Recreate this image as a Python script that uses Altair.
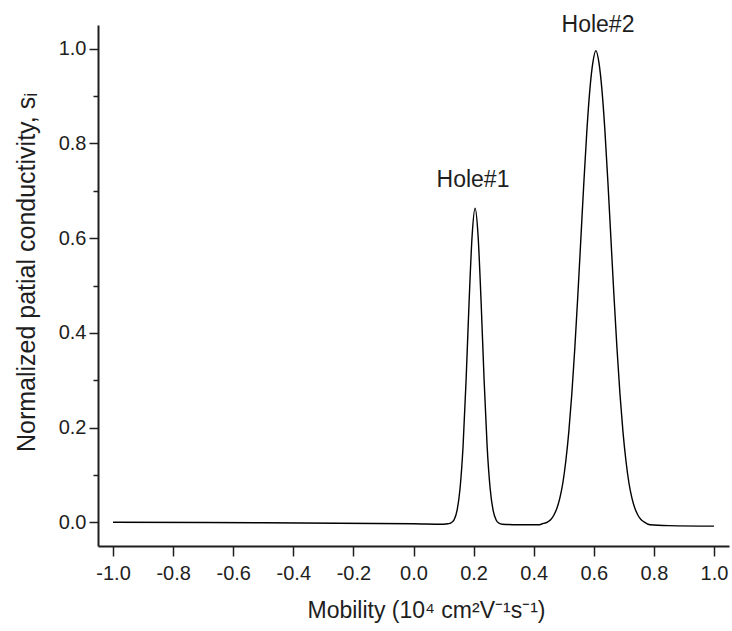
import altair as alt
import pandas as pd

# Mobility (10^4 cm^2 V^-1 s^-1) and normalized partial conductivity
mobility = [-1.0, -0.5, 0.0, 0.1, 0.115, 0.125, 0.135, 0.145, 0.155, 0.165, 0.175, 0.185,
            0.195, 0.205, 0.215, 0.225, 0.235, 0.245, 0.255, 0.265, 0.275, 0.285, 0.295,
            0.35, 0.42, 0.427, 0.447, 0.457, 0.467, 0.477, 0.487, 0.497, 0.507, 0.517,
            0.527, 0.537, 0.547, 0.557, 0.567, 0.577, 0.587, 0.597, 0.607, 0.617, 0.627,
            0.637, 0.647, 0.657, 0.667, 0.677, 0.687, 0.697, 0.707, 0.717, 0.727, 0.737,
            0.747, 0.757, 0.767, 0.787, 0.85, 1.0]
conductivity = [0.0, -0.001, -0.003, -0.004, -0.003, -0.001, 0.005, 0.025, 0.072, 0.161,
                0.300, 0.465, 0.604, 0.663, 0.604, 0.465, 0.300, 0.161, 0.072, 0.025, 0.005,
                -0.002, -0.004, -0.005, -0.005, -0.0035, 0.001, 0.006, 0.015, 0.029, 0.051,
                0.083, 0.130, 0.192, 0.272, 0.369, 0.480, 0.599, 0.718, 0.827, 0.914, 0.971,
                0.996, 0.971, 0.914, 0.827, 0.718, 0.599, 0.480, 0.369, 0.272, 0.192, 0.130,
                0.083, 0.051, 0.029, 0.015, 0.006, 0.001, -0.005, -0.007, -0.008]

label_text = ["Hole#1", "Hole#2"]
label_x = [0.198, 0.614]
label_y = [0.707, 1.036]

x_ticks = [-1.0, -0.8, -0.6, -0.4, -0.2, 0.0, 0.2, 0.4, 0.6, 0.8, 1.0]
y_ticks = [0.0, 0.2, 0.4, 0.6, 0.8, 1.0]
y_minor = [0.1, 0.3, 0.5, 0.7, 0.9]

curve = pd.DataFrame({"m": mobility, "s": conductivity})
labels = pd.DataFrame({"t": label_text, "m": label_x, "s": label_y})

FONT = "Liberation Sans"
INK = "#1e1e1e"
XDOM = [-1.05, 1.05]
YDOM = [-0.05, 1.05]

x_axis = alt.Axis(
    values=x_ticks,
    labelExpr="(datum.value < 0 ? '-' : '') + format(abs(datum.value), '.1f')",
    title="Mobility (10⁴ cm²V⁻¹s⁻¹)",
    grid=False, tickSize=10, tickWidth=1.5, tickColor=INK,
    domainColor=INK, domainWidth=2,
    labelFont=FONT, labelFontSize=20, labelColor=INK, labelPadding=7,
    titleFont=FONT, titleFontSize=23, titleFontWeight="normal", titleColor=INK,
    titleX=328, titleY=71, titleAlign="center", titleBaseline="alphabetic",
)

y_axis = alt.Axis(
    values=y_ticks,
    format=".1f",
    title="Normalized patial conductivity, sᵢ",
    grid=False, tickSize=9, tickWidth=1.5, tickColor=INK,
    domainColor=INK, domainWidth=2,
    labelFont=FONT, labelFontSize=20, labelColor=INK, labelPadding=3,
    titleFont=FONT, titleFontSize=25, titleFontWeight="normal", titleColor=INK,
    titleX=-64, titleY=247, titleAlign="center", titleBaseline="alphabetic", titleAngle=270,
)

y_minor_axis = alt.Axis(
    values=y_minor, labels=False, title=None, grid=False, domain=False,
    tickSize=5, tickWidth=1.5, tickColor=INK, orient="left",
)

line = alt.Chart(curve).mark_line(color="black", strokeWidth=1.4, interpolate="monotone").encode(
    x=alt.X("m:Q", scale=alt.Scale(domain=XDOM, nice=False, zero=False), axis=x_axis),
    y=alt.Y("s:Q", scale=alt.Scale(domain=YDOM, nice=False, zero=False), axis=y_axis),
)

text = alt.Chart(labels).mark_text(
    font=FONT, fontSize=23, color=INK, align="center", baseline="alphabetic"
).encode(
    x=alt.X("m:Q", scale=alt.Scale(domain=XDOM, nice=False, zero=False), axis=x_axis),
    y=alt.Y("s:Q", scale=alt.Scale(domain=YDOM, nice=False, zero=False), axis=y_minor_axis),
    text="t:N",
)

chart = alt.layer(line, text).resolve_scale(y="independent").properties(
    width=631, height=521,
    autosize=alt.AutoSizeParams(type="none"),
    padding={"left": 98, "top": 25, "right": 3, "bottom": 85},
    background="white",
).configure_view(stroke=None)

chart.save("out.html", embed_options={"renderer": "svg", "actions": False})
